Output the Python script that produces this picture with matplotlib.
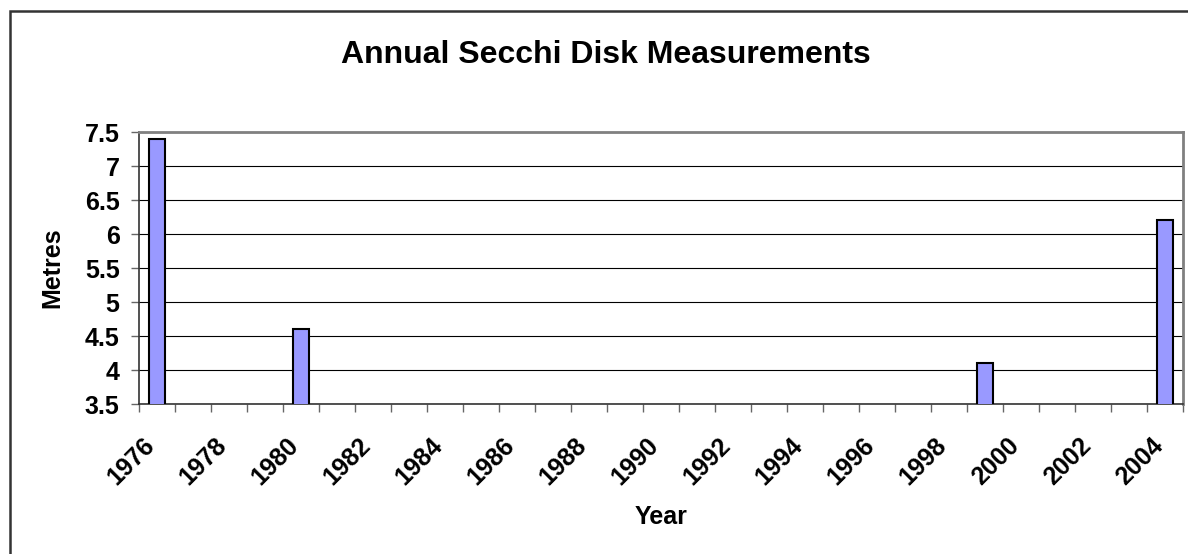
import numpy as np
import matplotlib.pyplot as plt
import matplotlib.transforms as mtransforms
from matplotlib.patches import Rectangle

# datos
years = list(range(1976, 2005))
measured_years = [1976, 1980, 1999, 2004]
measured_values = [7.4, 4.6, 4.1, 6.2]
y_ticks = [3.5, 4, 4.5, 5, 5.5, 6, 6.5, 7, 7.5]

plt.rcParams['font.family'] = ['Liberation Sans', 'DejaVu Sans']

values = [np.nan] * len(years)
for yr, v in zip(measured_years, measured_values):
    values[years.index(yr)] = v

fig = plt.figure(figsize=(11.88, 5.54), dpi=100)
ax = fig.add_axes([139 / 1188, 1 - 404 / 554, (1183 - 139) / 1188, (404 - 132) / 554])

x = np.arange(len(years))
ax.bar(x, values, width=0.45, color="#9999FF", edgecolor="black", linewidth=1.5, zorder=3)

ax.set_xlim(-0.5, len(years) - 0.5)
ax.set_ylim(3.5, 7.5)
ax.set_yticks(y_ticks)
ax.set_yticklabels([f"{t:g}" for t in y_ticks], fontsize=18, fontweight="bold")
ax.yaxis.grid(True, color="black", linewidth=0.8, zorder=0)
ax.set_axisbelow(True)

# marcas en los limites de categoria, etiquetas en el centro
ax.set_xticks(np.arange(len(years) + 1) - 0.5)
ax.set_xticklabels([])
ax.set_xticks(x[::2], minor=True)
ax.set_xticklabels([str(y) for y in years[::2]], minor=True,
                   fontsize=18, fontweight="bold", rotation=45,
                   ha="right", va="center", rotation_mode="anchor")
ax.tick_params(axis="x", which="minor", length=0, pad=27)
ax.tick_params(axis="both", which="major", length=6, color="#666666", width=1)
ax.tick_params(axis="y", which="major", pad=8)
offset = mtransforms.ScaledTranslation(-6 / 100, 0, fig.dpi_scale_trans)
for lbl in ax.get_xticklabels(minor=True):
    lbl.set_transform(lbl.get_transform() + offset)

for s in ["top", "right"]:
    ax.spines[s].set_color("#808080")
    ax.spines[s].set_linewidth(2)
for s in ["left", "bottom"]:
    ax.spines[s].set_color("#333333")
    ax.spines[s].set_linewidth(1.2)

ax.set_ylabel("Metres", fontsize=18, fontweight="bold")
ax.yaxis.set_label_coords((52 - 139) / 1044, 0.5)
ax.yaxis.label.set_va("center")
ax.set_xlabel("Year", fontsize=18, fontweight="bold")
ax.xaxis.set_label_coords(0.5, 1 - (517 - 132) / 272)
ax.xaxis.label.set_va("center")

fig.text(606 / 1188, 1 - 55 / 554, "Annual Secchi Disk Measurements",
         fontsize=23, fontweight="bold", ha="center", va="center")

# marco exterior del grafico
fig.patches.append(Rectangle((10 / 1188, -0.1), 1.2, 1 - 11 / 554 + 0.1,
                             transform=fig.transFigure, fill=False,
                             edgecolor="#333333", linewidth=1.8))

fig.savefig("out.png", dpi=100)
